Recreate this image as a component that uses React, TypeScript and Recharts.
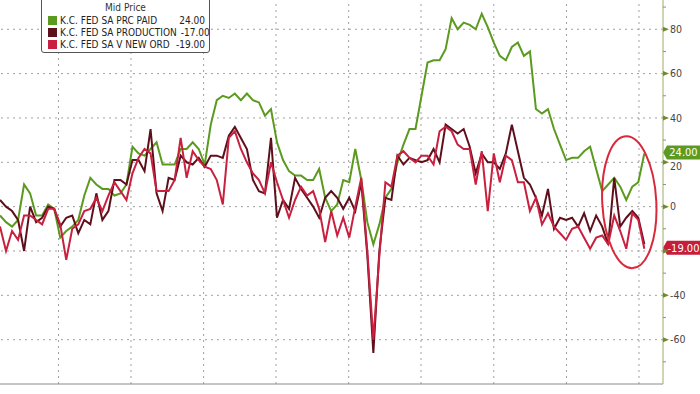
import React from "react";
import { LineChart, Line, XAxis, YAxis, ReferenceLine, ReferenceDot } from "recharts";

// monthly observations, oldest first
const monthIndex = Array.from({ length: 108 }, (_, i) => i);

const prcPaid = [
  -4, -7, -9, -6, 10, 6, -4, -4, 1, -1, -14, -11,
  -9, -6, 5, 13, 10, 8, 8, 5, 6, 10, 27, 24,
  23, 26, 29, 19, 19, 19, 26, 26, 29, 26, 19, 37,
  48, 50, 49, 51, 48, 51, 48, 47, 41, 44, 29, 21,
  16, 14, 14, 12, 12, 17, 4, -2, 1, 12, 11, 26,
  12, -7, -17, -8, 4, 8, 20, 28, 35, 35, 50, 65,
  66, 66, 71, 85, 80, 83, 82, 80, 87, 81, 74, 68,
  66, 72, 74, 68, 70, 44, 42, 44, 35, 28, 21, 22,
  22, 25, 27, 17, 7, 10, 13, 9, 3, 9, 11, 24,
];

const production = [
  3, 0, -2, -6, -20, 0, -7, -5, 0, -1, -9, -5,
  -4, -12, -6, -8, 6, -6, -2, 12, 12, 10, 21, 21,
  16, 35, 6, -2, 13, 12, 23, 20, 19, 22, 18, 23,
  23, 22, 32, 36, 31, 26, 12, 7, 6, 31, -5, 3,
  -1, 13, 8, 4, 0, -5, 4, 7, 4, -1, 4, -2,
  11, -22, -66, -20, 4, 3, 23, 19, 22, 21, 20, 21,
  26, 20, 37, 35, 33, 35, 27, 15, 24, 20, 20, 17,
  24, 37, 25, 13, 10, 4, -4, 8, -10, -5, -6, -5,
  -9, -3, -11, -4, -9, -17, 13, -9, -5, -2, -5, -17,
];

const newOrders = [
  -9, -20, -11, -15, -4, -4, -6, -8, -1, -1, -8, -24,
  -10, -8, -2, -1, 4, -2, 5, 11, 7, 3, 15, 22,
  26, 24, 7, 7, 7, 12, 31, 13, 25, 21, 18, 17,
  12, 1, 31, 34, 26, 20, 15, 12, 6, 20, 11, 3,
  -5, 3, 9, 5, 7, -1, -16, -2, -13, -5, -14, 0,
  13, -20, -60, -22, 11, 9, 23, 25, 22, 20, 23, 23,
  19, 34, 36, 34, 28, 26, 26, 10, 25, -2, 24, 11,
  23, 21, 11, 11, -2, 4, -8, -3, -9, -12, -15, -10,
  -9, -14, -19, -14, -13, -17, -4, -11, -19, -3, -6, -19,
];

const yTicks = [-80, -70, -60, -50, -40, -30, -20, -10, 0, 10, 20, 30, 40, 50, 60, 70, 80, 90];
const yLabelTicks = [-60, -40, -20, 0, 20, 40, 60, 80];
const xGridTicks = [9.71, 21.75, 33.81, 45.83, 57.9, 69.91, 82.0, 94.07, 106.11];
const xQuarterTicks = [0.67, 3.69, 6.7, ...xGridTicks.flatMap((t) => [t, t + 3.01, t + 6.02, t + 9.03])];

const GREEN = "#5b9a1e";
const DARK = "#5e0f1c";
const RED = "#c8203e";
const FONT = "'DejaVu Sans', sans-serif";

const series = [
  { key: "prcPaid", name: "K.C. FED SA PRC PAID", color: GREEN, values: prcPaid },
  { key: "production", name: "K.C. FED SA PRODUCTION", color: DARK, values: production },
  { key: "newOrders", name: "K.C. FED SA V NEW ORD", color: RED, values: newOrders },
];

const rows = monthIndex.map((i, k) => ({
  i,
  prcPaid: prcPaid[k],
  production: production[k],
  newOrders: newOrders[k],
}));

function YTick({ x, y, payload }: any) {
  const v = payload.value;
  if (v === -80) return null;
  const major = yLabelTicks.includes(v);
  return (
    <g>
      {major ? (
        <path d={`M${x},${y - 2.5} L${x + 6},${y} L${x},${y + 2.5} Z`} fill="#6f8a2c" />
      ) : (
        <line x1={x} x2={x + 3} y1={y} y2={y} stroke="#8a9a5a" />
      )}
      {major && v !== -20 && (
        <text x={x + 7} y={y + (v === 20 ? 4 : 0)} dy="0.36em" fontSize={10.5} fill="#444" fontFamily={FONT} style={{ fontStretch: "condensed" }}>
          {v}
        </text>
      )}
    </g>
  );
}

function ValueTag({ viewBox, value, fill }: any) {
  if (!viewBox) return null;
  const x = viewBox.x + viewBox.width + 4;
  const y = viewBox.y - 1;
  const w = 33;
  const h = 14;
  return (
    <g>
      <path
        d={`M${x - 4},${y} L${x},${y - h / 2} L${x + w},${y - h / 2} L${x + w},${y + h / 2} L${x},${y + h / 2} Z`}
        fill={fill}
      />
      <text x={x + w / 2} y={y} dy="0.36em" textAnchor="middle" fill="#fff" fontSize={11} fontFamily={FONT} style={{ fontStretch: "condensed" }}>
        {value.toFixed(2)}
      </text>
    </g>
  );
}

function Ellipse({ cx, cy }: any) {
  return (
    <ellipse cx={cx} cy={cy} rx={27} ry={66} fill="none" stroke="#d92a3c" strokeWidth={2} transform={`rotate(-3 ${cx} ${cy})`} />
  );
}

function LegendBox() {
  return (
    <div
      style={{
        position: "absolute",
        left: 41,
        top: -3,
        width: 169,
        height: 56,
        border: "1px solid #555",
        borderRadius: 3,
        background: "#fff",
        fontFamily: FONT,
        fontStretch: "condensed",
        fontSize: 10,
        color: "#222",
        boxSizing: "border-box",
        whiteSpace: "nowrap",
      }}
    >
      <div style={{ textAlign: "center", marginTop: 4, lineHeight: "12px", color: "#333" }}>Mid Price</div>
      {series.map((s) => (
        <div key={s.key} style={{ display: "flex", alignItems: "center", height: 12.4, paddingLeft: 6, paddingRight: 4 }}>
          <span style={{ width: 9, height: 9, background: s.color, marginRight: 3, display: "inline-block", flexShrink: 0 }} />
          <span style={{ flex: 1 }}>{s.name}</span>
          <span style={{ marginLeft: 4 }}>{s.values[s.values.length - 1].toFixed(2)}</span>
        </div>
      ))}
    </div>
  );
}

export default function App() {
  return (
    <div style={{ position: "absolute", left: 0, top: 0, width: 700, height: 394, background: "#fff", overflow: "hidden" }}>
      <LineChart width={700} height={394} data={rows} margin={{ top: 0, right: 0, bottom: 0, left: 0 }}>
        <XAxis
          type="number"
          dataKey="i"
          domain={[0, 110.1]}
          ticks={xQuarterTicks}
          interval={0}
          tick={false}
          tickSize={4}
          height={10}
          stroke="#8a8a8a"
        />
        <YAxis
          orientation="right"
          type="number"
          domain={[-80, 93.2]}
          allowDataOverflow
          ticks={yTicks}
          interval={0}
          width={37}
          tickSize={0}
          tickMargin={0}
          tickLine={false}
          axisLine={{ stroke: "#9aab6a" }}
          tick={<YTick />}
        />
        {yLabelTicks.map((v) => (
          <ReferenceLine key={`h${v}`} y={v} stroke="#a0a0a0" strokeDasharray="2 4" />
        ))}
        {xGridTicks.map((v) => (
          <ReferenceLine key={`v${v}`} x={v} stroke="#a0a0a0" strokeDasharray="2 4" />
        ))}
        {series.map((s) => (
          <Line
            key={s.key}
            type="linear"
            dataKey={s.key}
            stroke={s.color}
            strokeWidth={2}
            dot={false}
            activeDot={false}
            isAnimationActive={false}
          />
        ))}
        <ReferenceDot x={104.5} y={2} r={1} ifOverflow="visible" shape={<Ellipse />} />
        <ReferenceLine
          y={prcPaid[prcPaid.length - 1]}
          stroke="none"
          label={<ValueTag value={prcPaid[prcPaid.length - 1]} fill="#5e9a22" />}
        />
        <ReferenceLine
          y={newOrders[newOrders.length - 1]}
          stroke="none"
          label={<ValueTag value={newOrders[newOrders.length - 1]} fill="#c41e3a" />}
        />
      </LineChart>
      <LegendBox />
    </div>
  );
}
